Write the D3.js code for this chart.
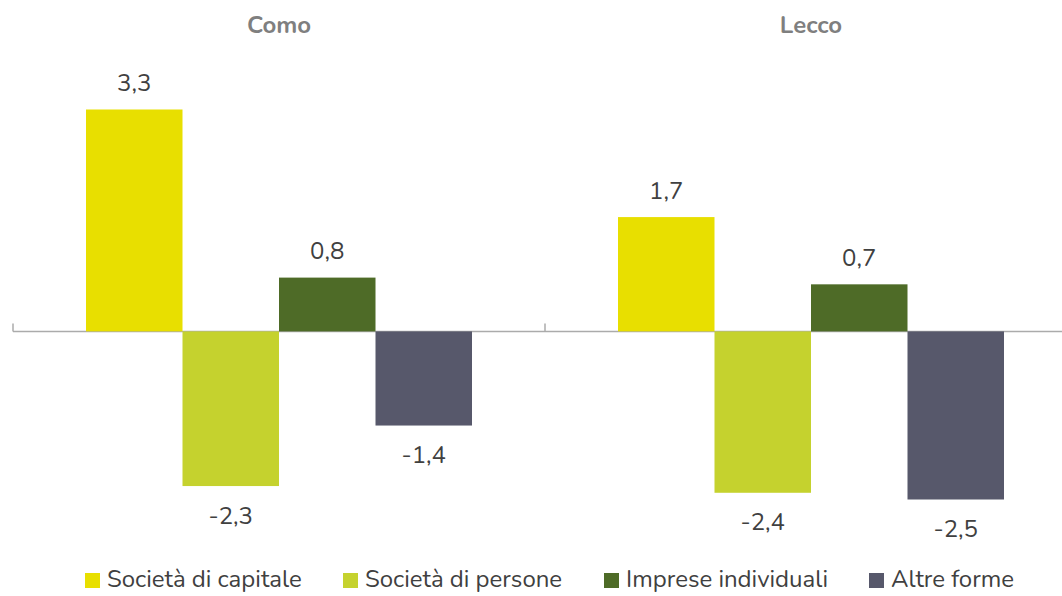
<!DOCTYPE html>
<html>
<head>
<meta charset="utf-8">
<script src="https://cdn.jsdelivr.net/npm/d3@7"></script>
<style>
  html, body { margin: 0; padding: 0; background: #fff; }
  svg { display: block; font-family: "Nunito", "Lato", "Open Sans", sans-serif; }
</style>
</head>
<body>
<svg id="chart" width="1062" height="596"></svg>
<script>
// Provinces (facets) and legal forms (series)
const provinces = ["Como", "Lecco"];
const forms = ["Società di capitale", "Società di persone", "Imprese individuali", "Altre forme"];
const colors = ["#E8DF00", "#C5D22E", "#4E6B27", "#57586B"];

// Percentage change per form, one array per province
const comoValues = [3.3, -2.3, 0.8, -1.4];
const leccoValues = [1.7, -2.4, 0.7, -2.5];
const valuesByProvince = [comoValues, leccoValues];

const svg = d3.select("#chart");
const W = 1062, H = 596;

const x0 = d3.scaleBand().domain(provinces).range([13, 1077]).paddingInner(0).paddingOuter(0);
const x1 = d3.scaleBand().domain(forms).range([73, 459]).padding(0);
const y = d3.scaleLinear().domain([-2.5, 3.3]).range([499.5, 109.5]);

const fmt = v => d3.format(".1f")(v).replace(".", ",").replace("−", "-");

// Zero axis with group separator ticks
const zeroY = y(0);
svg.append("line")
  .attr("x1", 13).attr("x2", W).attr("y1", zeroY).attr("y2", zeroY)
  .attr("stroke", "#ABABAB").attr("stroke-width", 1.5);
[13, 545].forEach(tx => {
  svg.append("line")
    .attr("x1", tx).attr("x2", tx).attr("y1", zeroY - 8).attr("y2", zeroY)
    .attr("stroke", "#ABABAB").attr("stroke-width", 1.5);
});

provinces.forEach((p, pi) => {
  const g = svg.append("g").attr("transform", `translate(${x0(p)},0)`);
  const data = forms.map((f, i) => ({ form: f, value: valuesByProvince[pi][i], color: colors[i] }));

  g.selectAll("rect").data(data).join("rect")
    .attr("x", d => x1(d.form))
    .attr("width", x1.bandwidth())
    .attr("y", d => Math.min(y(d.value), zeroY))
    .attr("height", d => Math.abs(y(d.value) - zeroY))
    .attr("fill", d => d.color);

  g.selectAll("text.val").data(data).join("text")
    .attr("class", "val")
    .attr("x", d => x1(d.form) + x1.bandwidth() / 2)
    .attr("y", d => d.value >= 0 ? y(d.value) - 18.5 : y(d.value) + 37.5)
    .attr("text-anchor", "middle")
    .attr("font-size", 24)
    .attr("fill", "#404040")
    .text(d => fmt(d.value));

  g.append("text")
    .attr("x", x0.bandwidth() / 2)
    .attr("y", 33)
    .attr("text-anchor", "middle")
    .attr("font-size", 24)
    .attr("font-weight", "bold")
    .attr("fill", "#7F7F7F")
    .text(p);
});

// Legend
const legendX = [85, 343, 604, 869];
const legend = svg.append("g");
forms.forEach((f, i) => {
  legend.append("rect")
    .attr("x", legendX[i]).attr("y", 573)
    .attr("width", 15).attr("height", 15)
    .attr("fill", colors[i]);
  legend.append("text")
    .attr("x", legendX[i] + 22).attr("y", 587)
    .attr("font-size", 24)
    .attr("fill", "#404040")
    .text(f);
});
</script>
</body>
</html>
